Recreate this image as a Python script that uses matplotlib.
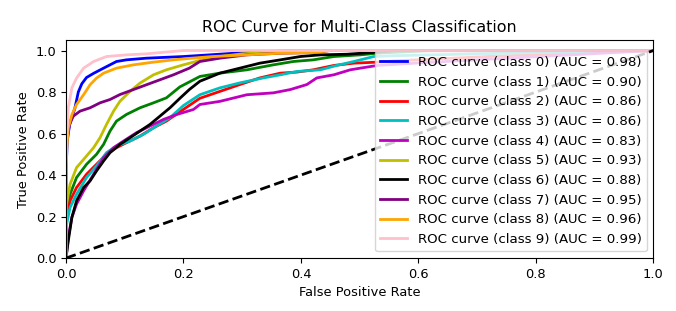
import matplotlib
matplotlib.use("Agg")
import matplotlib.pyplot as plt

classes = list(range(10))
aucs = [0.98, 0.90, 0.86, 0.86, 0.83, 0.93, 0.88, 0.95, 0.96, 0.99]
colors = ['b', 'g', 'r', 'c', 'm', 'y', 'k', 'purple', 'orange', 'pink']

fpr0 = [0.0, 0.0, 0.002, 0.006, 0.01, 0.015, 0.021, 0.027, 0.035, 0.047, 0.064, 0.086, 0.103, 0.137, 0.20, 0.25, 0.33, 0.40, 1.0]
tpr0 = [0.0, 0.40, 0.56, 0.64, 0.68, 0.72, 0.80, 0.84, 0.87, 0.89, 0.915, 0.947, 0.955, 0.963, 0.971, 0.98, 0.995, 1.0, 1.0]

fpr1 = [0.0, 0.0, 0.007, 0.018, 0.035, 0.052, 0.064, 0.075, 0.086, 0.103, 0.126, 0.149, 0.171, 0.194, 0.228, 0.262, 0.308, 0.353, 0.387, 0.421, 0.456, 0.501, 0.53, 0.62, 1.0]
tpr1 = [0.0, 0.18, 0.308, 0.388, 0.452, 0.50, 0.548, 0.612, 0.66, 0.692, 0.724, 0.748, 0.772, 0.825, 0.875, 0.891, 0.907, 0.931, 0.947, 0.955, 0.971, 0.979, 0.987, 1.0, 1.0]

fpr2 = [0.0, 0.0, 0.007, 0.018, 0.035, 0.052, 0.069, 0.086, 0.103, 0.126, 0.149, 0.171, 0.194, 0.228, 0.262, 0.296, 0.33, 0.365, 0.393, 0.421, 0.456, 0.49, 0.53, 0.56, 0.75, 1.0]
tpr2 = [0.0, 0.18, 0.276, 0.34, 0.404, 0.452, 0.50, 0.532, 0.556, 0.588, 0.628, 0.66, 0.705, 0.77, 0.803, 0.836, 0.868, 0.891, 0.896, 0.907, 0.928, 0.939, 0.944, 0.95, 0.975, 1.0]

fpr3 = [0.0, 0.0, 0.007, 0.018, 0.035, 0.052, 0.069, 0.086, 0.109, 0.132, 0.154, 0.177, 0.20, 0.228, 0.262, 0.296, 0.336, 0.365, 0.393, 0.433, 0.461, 0.49, 0.524, 0.56, 0.80, 1.0]
tpr3 = [0.0, 0.149, 0.244, 0.308, 0.388, 0.444, 0.508, 0.54, 0.564, 0.596, 0.636, 0.676, 0.735, 0.787, 0.82, 0.844, 0.868, 0.883, 0.899, 0.907, 0.928, 0.947, 0.971, 0.975, 0.99, 1.0]

fpr4 = [0.0, 0.004, 0.01, 0.018, 0.03, 0.047, 0.064, 0.081, 0.098, 0.12, 0.143, 0.166, 0.189, 0.217, 0.228, 0.262, 0.308, 0.353, 0.382, 0.41, 0.427, 0.456, 0.484, 0.501, 0.53, 0.60, 0.80, 1.0]
tpr4 = [0.0, 0.10, 0.196, 0.26, 0.324, 0.404, 0.484, 0.532, 0.564, 0.604, 0.636, 0.668, 0.692, 0.716, 0.74, 0.755, 0.787, 0.796, 0.812, 0.836, 0.868, 0.883, 0.907, 0.915, 0.928, 0.94, 0.97, 1.0]

fpr5 = [0.0, 0.0, 0.007, 0.018, 0.035, 0.047, 0.058, 0.069, 0.081, 0.092, 0.109, 0.126, 0.149, 0.171, 0.20, 0.245, 0.30, 0.40, 1.0]
tpr5 = [0.0, 0.244, 0.356, 0.436, 0.492, 0.532, 0.58, 0.644, 0.708, 0.756, 0.803, 0.843, 0.883, 0.907, 0.931, 0.965, 0.984, 1.0, 1.0]

fpr6 = [0.0, 0.004, 0.01, 0.018, 0.03, 0.041, 0.052, 0.064, 0.075, 0.092, 0.109, 0.126, 0.143, 0.16, 0.177, 0.194, 0.21, 0.228, 0.262, 0.296, 0.33, 0.365, 0.399, 0.433, 0.478, 0.53, 0.56, 1.0]
tpr6 = [0.0, 0.085, 0.196, 0.276, 0.34, 0.372, 0.42, 0.468, 0.508, 0.548, 0.58, 0.612, 0.644, 0.684, 0.724, 0.77, 0.812, 0.852, 0.891, 0.915, 0.939, 0.955, 0.971, 0.979, 0.982, 0.992, 1.0, 1.0]

fpr7 = [0.0, 0.0, 0.001, 0.006, 0.0125, 0.024, 0.041, 0.058, 0.075, 0.092, 0.115, 0.137, 0.16, 0.183, 0.21, 0.228, 0.262, 0.308, 0.365, 0.421, 0.45, 1.0]
tpr7 = [0.0, 0.25, 0.564, 0.644, 0.684, 0.708, 0.724, 0.748, 0.764, 0.788, 0.812, 0.835, 0.859, 0.883, 0.915, 0.947, 0.963, 0.979, 0.987, 0.99, 1.0, 1.0]

fpr8 = [0.0, 0.0, 0.001, 0.004, 0.01, 0.018, 0.03, 0.041, 0.052, 0.064, 0.086, 0.115, 0.149, 0.183, 0.21, 0.25, 0.308, 0.365, 0.421, 0.45, 1.0]
tpr8 = [0.0, 0.35, 0.516, 0.628, 0.69, 0.74, 0.787, 0.835, 0.867, 0.891, 0.915, 0.931, 0.944, 0.955, 0.962, 0.971, 0.979, 0.987, 0.99, 1.0, 1.0]

fpr9 = [0.0, 0.0, 0.001, 0.004, 0.01, 0.018, 0.03, 0.047, 0.069, 0.103, 0.137, 0.20, 1.0]
tpr9 = [0.0, 0.45, 0.56, 0.724, 0.82, 0.867, 0.915, 0.947, 0.971, 0.979, 0.984, 1.0, 1.0]

fprs = [fpr0, fpr1, fpr2, fpr3, fpr4, fpr5, fpr6, fpr7, fpr8, fpr9]
tprs = [tpr0, tpr1, tpr2, tpr3, tpr4, tpr5, tpr6, tpr7, tpr8, tpr9]

fig = plt.figure(figsize=(6.76, 3.11), dpi=100)
ax = fig.add_axes([0.0976, 0.170, 0.869, 0.701])
for i, fpr, tpr, col, auc in zip(classes, fprs, tprs, colors, aucs):
    ax.plot(fpr, tpr, color=col, lw=2, label=f'ROC curve (class {i}) (AUC = {auc:.2f})')
ax.plot([0, 1], [0, 1], 'k--', lw=2)
ax.set_xlim(0.0, 1.0)
ax.set_ylim(0.0, 1.05)
ax.set_xlabel('False Positive Rate', fontsize=9.4)
ax.set_ylabel('True Positive Rate', fontsize=9.4)
ax.set_title('ROC Curve for Multi-Class Classification', fontsize=11.4)
ax.tick_params(labelsize=9.4)
ax.legend(loc='lower right', fontsize=9.6)
fig.savefig('out.png', dpi=100)
